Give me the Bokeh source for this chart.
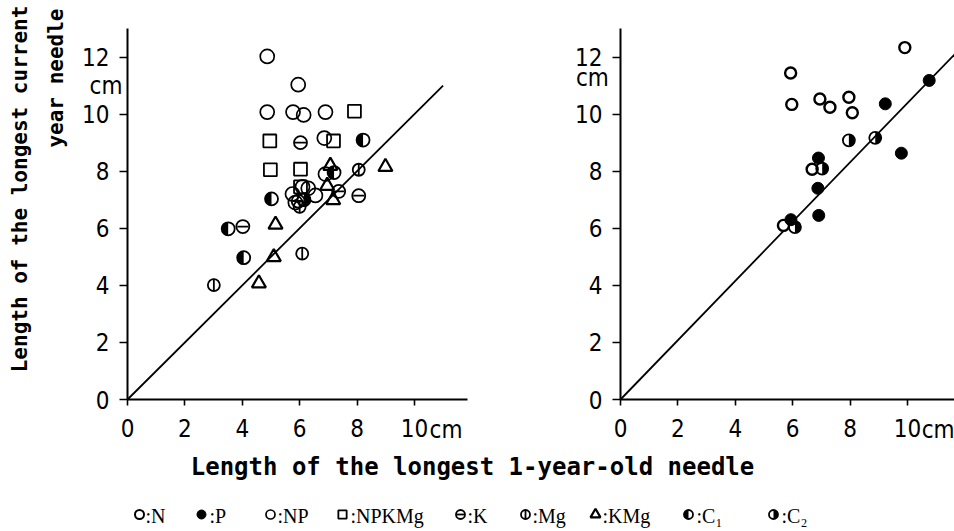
import math
from bokeh.plotting import figure
from bokeh.layouts import column, row
from bokeh.models import Range1d, FixedTicker, LinearAxis
from bokeh.core.properties import value
from bokeh.embed import file_html
from bokeh.resources import INLINE

# ---------------- data (cm): x = longest 1-year-old needle, y = longest current-year needle
# left panel
np_x = [4.87, 5.95, 4.87, 5.77, 6.14, 6.90, 6.86, 6.90, 5.75, 6.30, 6.55, 5.85, 6.10]
np_y = [12.02, 11.03, 10.07, 10.07, 9.97, 10.07, 9.16, 7.90, 7.20, 7.40, 7.15, 6.90, 7.45]
npkmg_x = [7.91, 4.96, 7.18, 4.98, 6.03, 6.03]
npkmg_y = [10.10, 9.06, 9.06, 8.05, 8.07, 7.45]
k_x = [6.03, 7.36, 8.06, 4.02, 5.95]
k_y = [9.00, 7.29, 7.14, 6.06, 6.95]
mg_x = [8.06, 6.09, 3.01, 6.00]
mg_y = [8.05, 5.11, 4.01, 6.75]
kmg_x = [7.07, 8.99, 6.96, 7.17, 5.16, 5.10, 4.58]
kmg_y = [8.19, 8.15, 7.49, 6.99, 6.13, 4.99, 4.07]
c1_x = [8.21, 7.20, 5.02, 3.51, 4.05]
c1_y = [9.09, 7.95, 7.03, 5.98, 4.97]
c2_x = [6.15]
c2_y = [7.00]
left_line_x = [0, 11.0]
left_line_y = [0, 11.0]

# right panel
rn_x = [5.93, 5.97, 6.95, 7.30, 7.96, 8.08, 9.91, 6.68, 5.68]
rn_y = [11.44, 10.34, 10.53, 10.24, 10.59, 10.05, 12.33, 8.07, 6.10]
rp_x = [10.76, 9.23, 9.79, 6.90, 6.88, 6.91, 5.94]
rp_y = [11.18, 10.36, 8.63, 8.46, 7.40, 6.45, 6.30]
rc2_x = [7.96, 8.88, 7.03, 6.08]
rc2_y = [9.08, 9.17, 8.09, 6.04]
right_line_x = [0, 11.65]
right_line_y = [0, 12.1]

x_ticks = [0, 2, 4, 6, 8, 10]
y_ticks = [0, 2, 4, 6, 8, 10, 12]
unit_text = "cm"
y_title_lines = ["Length of the longest current", "year needle"]
x_title = "Length of the longest 1-year-old needle"

legend_keys = ["N", "P", "NP", "NPKMg", "K", "Mg", "KMg", "C1", "C2"]
legend_texts = [":N", ":P", ":NP", ":NPKMg", ":K", ":Mg", ":KMg", ":C\u2081", ":C\u2082"]

TICK_FONT = "DejaVu Sans Condensed"
TITLE_FONT = "DejaVu Sans Mono"
PX_X = 28.69   # screen pixels per cm, horizontal
PX_Y = 28.54   # screen pixels per cm, vertical


def draw_kind(p, kind, xs, ys, s):
    """Draw one treatment's symbol at screen diameter s."""
    if kind == "N":
        p.scatter(xs, ys, marker="circle", size=s, fill_color="white",
                  line_color="black", line_width=max(2.0, s * 0.22))
    elif kind == "P":
        p.scatter(xs, ys, marker="circle", size=s, fill_color="black",
                  line_color="black", line_width=1)
    elif kind == "NP":
        p.scatter(xs, ys, marker="circle", size=s, fill_color=None,
                  line_color="black", line_width=1.7)
    elif kind == "NPKMg":
        p.scatter(xs, ys, marker="square", size=s * 0.92, fill_color=None,
                  line_color="black", line_width=1.8)
    elif kind == "K":
        p.scatter(xs, ys, marker="circle", size=s, fill_color=None,
                  line_color="black", line_width=1.8)
        p.scatter(xs, ys, marker="dash", size=s * 0.85,
                  line_color="black", line_width=1.8)
    elif kind == "Mg":
        p.scatter(xs, ys, marker="circle", size=s, fill_color=None,
                  line_color="black", line_width=1.8)
        p.scatter(xs, ys, marker="dash", size=s * 1.05, angle=math.pi / 2,
                  line_color="black", line_width=1.8)
    elif kind == "KMg":
        p.scatter(xs, ys, marker="triangle", size=s, fill_color=None,
                  line_color="black", line_width=2.2)
    elif kind in ("C1", "C2"):
        if kind == "C1":
            a0, a1 = math.pi / 2, 3 * math.pi / 2
        else:
            a0, a1 = -math.pi / 2, math.pi / 2
        p.wedge(xs, ys, radius=s / 2.0, radius_units="screen",
                start_angle=a0, end_angle=a1,
                fill_color="black", line_color=None)
        p.scatter(xs, ys, marker="circle", size=s, fill_color=None,
                  line_color="black", line_width=1.8)


def make_panel(width, height, origin_px, x_len, y_len):
    """A panel whose frame fills the canvas; axes sit at x=0 and y=0."""
    ox, oy = origin_px  # screen position of the (0, 0) corner
    p = figure(width=width, height=height, output_backend="svg",
               toolbar_location=None, x_axis_type=None, y_axis_type=None,
               x_range=Range1d(-ox / PX_X, (width - ox) / PX_X),
               y_range=Range1d(-(height - oy) / PX_Y, oy / PX_Y),
               min_border=0, min_border_left=0, min_border_right=0,
               min_border_top=0, min_border_bottom=0)
    p.outline_line_color = None
    p.grid.visible = False
    p.background_fill_color = "white"
    p.border_fill_color = "white"

    xa = LinearAxis(fixed_location=0, bounds=(0, x_len),
                    ticker=FixedTicker(ticks=x_ticks))
    ya = LinearAxis(fixed_location=0, bounds=(0, y_len),
                    ticker=FixedTicker(ticks=y_ticks))
    for ax in (xa, ya):
        ax.axis_line_width = 2
        ax.axis_line_color = "black"
        ax.major_tick_line_width = 1.6
        ax.major_tick_line_color = "black"
        ax.major_tick_in = 0
        ax.minor_tick_line_color = None
        ax.major_label_text_font = TICK_FONT
        ax.major_label_text_font_size = "24px"
        ax.major_label_text_color = "black"
    xa.major_tick_out = 6
    ya.major_tick_out = 8
    xa.major_label_standoff = 13
    ya.major_label_standoff = 10
    p.add_layout(xa, "below")
    p.add_layout(ya, "left")
    return p


def unit_labels(p, y_cm_at, x_cm_at):
    p.text(x=[y_cm_at[0]], y=[y_cm_at[1]], text=[unit_text],
           text_font=value(TICK_FONT), text_font_size="24px",
           text_align="center", text_baseline="middle", text_color="black")
    p.text(x=[x_cm_at[0]], y=[x_cm_at[1]], text=[unit_text],
           text_font=value(TICK_FONT), text_font_size="24px",
           text_align="left", text_baseline="alphabetic", text_color="black")


# ---------------- left panel
p1 = make_panel(470, 445, (127, 399), 11.85, 13.0)
p1.line(left_line_x, left_line_y, line_color="black", line_width=1.8)
draw_kind(p1, "NP", np_x, np_y, 14)
draw_kind(p1, "NPKMg", npkmg_x, npkmg_y, 14)
draw_kind(p1, "K", k_x, k_y, 13)
draw_kind(p1, "Mg", mg_x, mg_y, 12)
draw_kind(p1, "KMg", kmg_x, kmg_y, 14)
draw_kind(p1, "C1", c1_x, c1_y, 13)
draw_kind(p1, "C2", c2_x, c2_y, 13)
unit_labels(p1, (-0.75, 11.0), (10.53, -1.06))

p1.text(x=[-3.73, -2.5], y=[13.8, 13.7], text=y_title_lines,
        angle=math.pi / 2, text_align="right", text_baseline="middle",
        text_font=value(TITLE_FONT), text_font_style="bold",
        text_font_size="21px", text_color="black")

# ---------------- right panel
p2 = make_panel(484, 445, (150, 399), 11.65, 13.0)
p2.line(right_line_x, right_line_y, line_color="black", line_width=1.8)
draw_kind(p2, "N", rn_x, rn_y, 11)
draw_kind(p2, "P", rp_x, rp_y, 12)
draw_kind(p2, "C2", rc2_x, rc2_y, 12)
unit_labels(p2, (-0.98, 11.25), (10.5, -1.06))

# ---------------- shared x title and symbol key
p3 = figure(width=954, height=86, output_backend="svg", toolbar_location=None,
            x_range=Range1d(0, 954), y_range=Range1d(86, 0),
            x_axis_type=None, y_axis_type=None,
            min_border=0, min_border_left=0, min_border_right=0,
            min_border_top=0, min_border_bottom=0)
p3.outline_line_color = None
p3.grid.visible = False
p3.text(x=[472], y=[21], text=[x_title],
        text_align="center", text_baseline="middle",
        text_font=value(TITLE_FONT), text_font_style="bold",
        text_font_size="24px", text_color="black")

key_marker_x = [139, 201, 270, 342, 460, 525, 595, 688, 773]
key_text_x = [145, 209, 277, 350, 467, 532, 602, 696, 781]
for k, t, mx, tx in zip(legend_keys, legend_texts, key_marker_x, key_text_x):
    draw_kind(p3, k, [mx], [69], 9 if k != "KMg" else 10)
    p3.text(x=[tx], y=[70], text=[t], text_font=value("Liberation Serif"),
            text_font_size="20px", text_align="left",
            text_baseline="middle", text_color="black")

layout = column(row(p1, p2), p3)
open("out.html", "w").write(file_html(layout, INLINE))
